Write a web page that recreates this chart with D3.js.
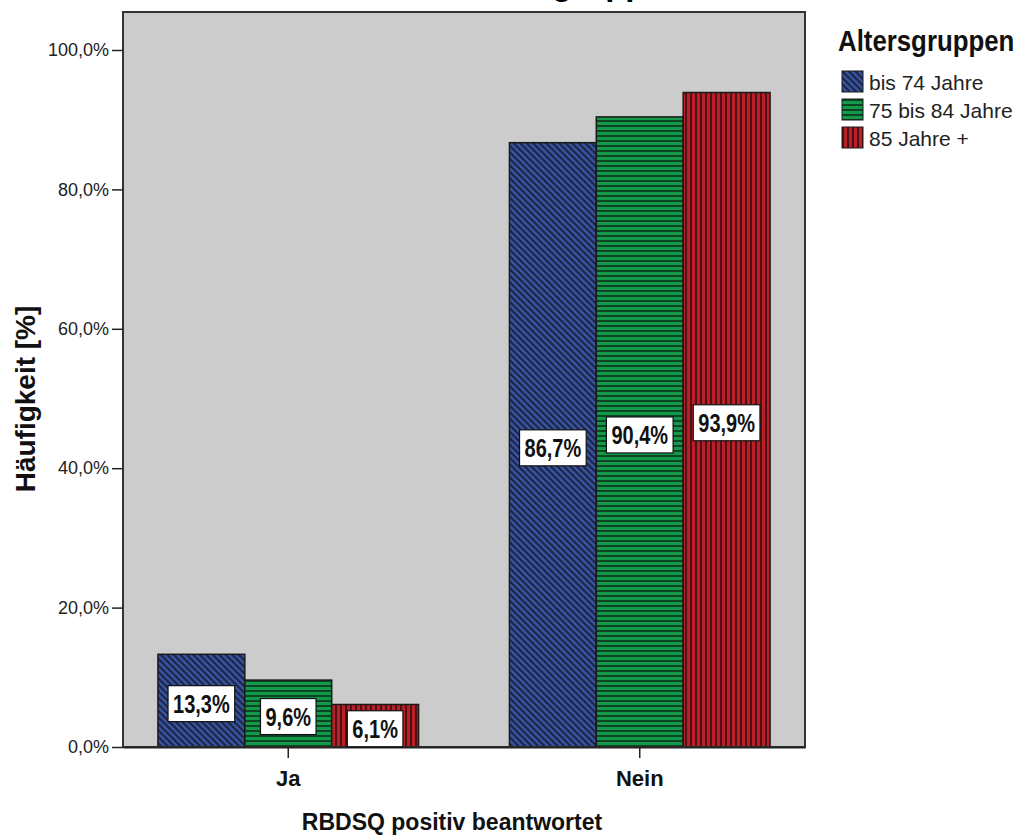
<!DOCTYPE html>
<html><head><meta charset="utf-8">
<script src="https://cdn.jsdelivr.net/npm/d3@7"></script>
<style>
html,body{margin:0;padding:0;background:#fff;}
svg{display:block;}
</style></head>
<body>
<svg id="chart" width="1035" height="835"></svg>
<script>
const categories = ["Ja", "Nein"];
const groups = ["bis 74 Jahre", "75 bis 84 Jahre", "85 Jahre +"];
const valuesJa = [13.3, 9.6, 6.1];
const valuesNein = [86.7, 90.4, 93.9];
const yTickValues = [0, 20, 40, 60, 80, 100];
const yTickLabels = ["0,0%", "20,0%", "40,0%", "60,0%", "80,0%", "100,0%"];
const valueLabels = { Ja: ["13,3%", "9,6%", "6,1%"], Nein: ["86,7%", "90,4%", "93,9%"] };
const chartTitle = "Altersgruppen";
const legendTitle = "Altersgruppen";
const xTitle = "RBDSQ positiv beantwortet";
const yTitle = "Häufigkeit [%]";

const svg = d3.select("#chart");
const plot = { left: 123, right: 805, top: 12, bottom: 747 };

const y = d3.scaleLinear().domain([0, 105.45]).range([plot.bottom, plot.top]);
const x0 = d3.scaleBand().domain(categories).range([plot.left, plot.right])
  .paddingInner(0.2585).paddingOuter(0.0994);
const x1 = d3.scaleBand().domain(groups).range([0, x0.bandwidth()]);

// patterns
const defs = svg.append("defs");
const pBlue = defs.append("pattern").attr("id", "p0").attr("patternUnits", "userSpaceOnUse")
  .attr("width", 6.5).attr("height", 6.5);
pBlue.append("rect").attr("width", 6.5).attr("height", 6.5).attr("fill", "#3a56a6");
pBlue.append("path").attr("d", "M-1,-1 L7.5,7.5 M-1,5.5 L1,7.5 M5.5,-1 L7.5,1")
  .attr("stroke", "#1b2444").attr("stroke-width", 2.2);
const pGreen = defs.append("pattern").attr("id", "p1").attr("patternUnits", "userSpaceOnUse")
  .attr("width", 5).attr("height", 5);
pGreen.append("rect").attr("width", 5).attr("height", 5).attr("fill", "#14984a");
pGreen.append("rect").attr("width", 5).attr("height", 2).attr("fill", "#0c4524");
const pRed = defs.append("pattern").attr("id", "p2").attr("patternUnits", "userSpaceOnUse")
  .attr("width", 5).attr("height", 5);
pRed.append("rect").attr("width", 5).attr("height", 5).attr("fill", "#b91f27");
pRed.append("rect").attr("width", 2).attr("height", 5).attr("fill", "#4e1014");
const fills = ["url(#p0)", "url(#p1)", "url(#p2)"];

// title (clipped at top edge, as in the reference)
svg.append("text").attr("x", 684).attr("y", -5.5).attr("text-anchor", "end")
  .attr("font-family", "Liberation Sans, Arial, sans-serif").attr("font-weight", "bold")
  .attr("font-size", 33).attr("fill", "#000").text(chartTitle);

// plot background
svg.append("rect").attr("x", plot.left).attr("y", plot.top)
  .attr("width", plot.right - plot.left).attr("height", plot.bottom - plot.top)
  .attr("fill", "#cccccc");

// bars
const data = [];
categories.forEach((c, i) => groups.forEach((g, j) => {
  data.push({ cat: c, grp: g, j: j, v: (i === 0 ? valuesJa : valuesNein)[j], label: valueLabels[c][j] });
}));

svg.append("g").selectAll("rect").data(data).join("rect")
  .attr("x", d => x0(d.cat) + x1(d.grp))
  .attr("y", d => y(d.v))
  .attr("width", x1.bandwidth())
  .attr("height", d => y(0) - y(d.v))
  .attr("fill", d => fills[d.j])
  .attr("stroke", "#1a1a1a").attr("stroke-width", 1.5);

// frame
svg.append("rect").attr("x", plot.left).attr("y", plot.top)
  .attr("width", plot.right - plot.left).attr("height", plot.bottom - plot.top)
  .attr("fill", "none").attr("stroke", "#333").attr("stroke-width", 2);

// y axis
const yAxis = d3.axisLeft(y).tickValues(yTickValues)
  .tickFormat((d, i) => yTickLabels[i]).tickSize(11).tickSizeOuter(0).tickPadding(3);
const gy = svg.append("g").attr("transform", `translate(${plot.left},0)`).call(yAxis);
gy.select(".domain").remove();
gy.selectAll("line").attr("stroke", "#222").attr("stroke-width", 1.5);
gy.selectAll("text").attr("font-family", "Liberation Sans, Arial, sans-serif")
  .attr("font-size", 18).attr("fill", "#222");

// x axis
const xAxis = d3.axisBottom(x0).tickSize(11).tickSizeOuter(0).tickPadding(12);
const gx = svg.append("g").attr("transform", `translate(0,${plot.bottom})`).call(xAxis);
gx.select(".domain").attr("stroke", "#222").attr("stroke-width", 2);
gx.selectAll("line").attr("stroke", "#222").attr("stroke-width", 1.5);
gx.selectAll("text").attr("font-family", "Liberation Sans, Arial, sans-serif")
  .attr("font-weight", "bold").attr("font-size", 22).attr("fill", "#111");

// value labels
const lab = svg.append("g").selectAll("g").data(data).join("g")
  .attr("transform", d => `translate(${x0(d.cat) + x1(d.grp) + x1.bandwidth() / 2},${y(d.v / 2) + 3})`);
lab.each(function (d) {
  const g = d3.select(this);
  const r = g.append("rect");
  const t = g.append("text").attr("text-anchor", "middle").attr("dy", "0.36em")
    .attr("transform", "scale(0.8,1)")
    .attr("font-family", "Liberation Sans, Arial, sans-serif").attr("font-weight", "bold")
    .attr("font-size", 25).attr("fill", "#111").text(d.label);
  const w = t.node().getComputedTextLength() * 0.8 + 10;
  r.attr("x", -w / 2).attr("y", -18).attr("width", w).attr("height", 36)
    .attr("fill", "#fff").attr("stroke", "#111").attr("stroke-width", 1.2);
});

// axis titles
svg.append("text").attr("transform", `translate(452,830)`).attr("text-anchor", "middle")
  .attr("font-family", "Liberation Sans, Arial, sans-serif").attr("font-weight", "bold")
  .attr("font-size", 23).attr("fill", "#111").text(xTitle);
svg.append("text").attr("transform", `translate(35,399) rotate(-90)`).attr("text-anchor", "middle")
  .attr("font-family", "Liberation Sans, Arial, sans-serif").attr("font-weight", "bold")
  .attr("font-size", 28).attr("fill", "#111").text(yTitle);

// legend
const leg = svg.append("g");
leg.append("text").attr("transform", "translate(838,51) scale(0.89,1)")
  .attr("font-family", "Liberation Sans, Arial, sans-serif").attr("font-weight", "bold")
  .attr("font-size", 29).attr("fill", "#111").text(legendTitle);
const items = leg.selectAll("g.item").data(groups).join("g").attr("class", "item")
  .attr("transform", (d, i) => `translate(842,${71 + i * 28})`);
items.append("rect").attr("width", 21).attr("height", 21)
  .attr("fill", (d, i) => fills[i]).attr("stroke", "#1a1a1a").attr("stroke-width", 1);
items.append("text").attr("x", 27).attr("y", 19)
  .attr("font-family", "Liberation Sans, Arial, sans-serif")
  .attr("font-size", 21).attr("fill", "#222").text(d => d);
</script>
</body></html>
